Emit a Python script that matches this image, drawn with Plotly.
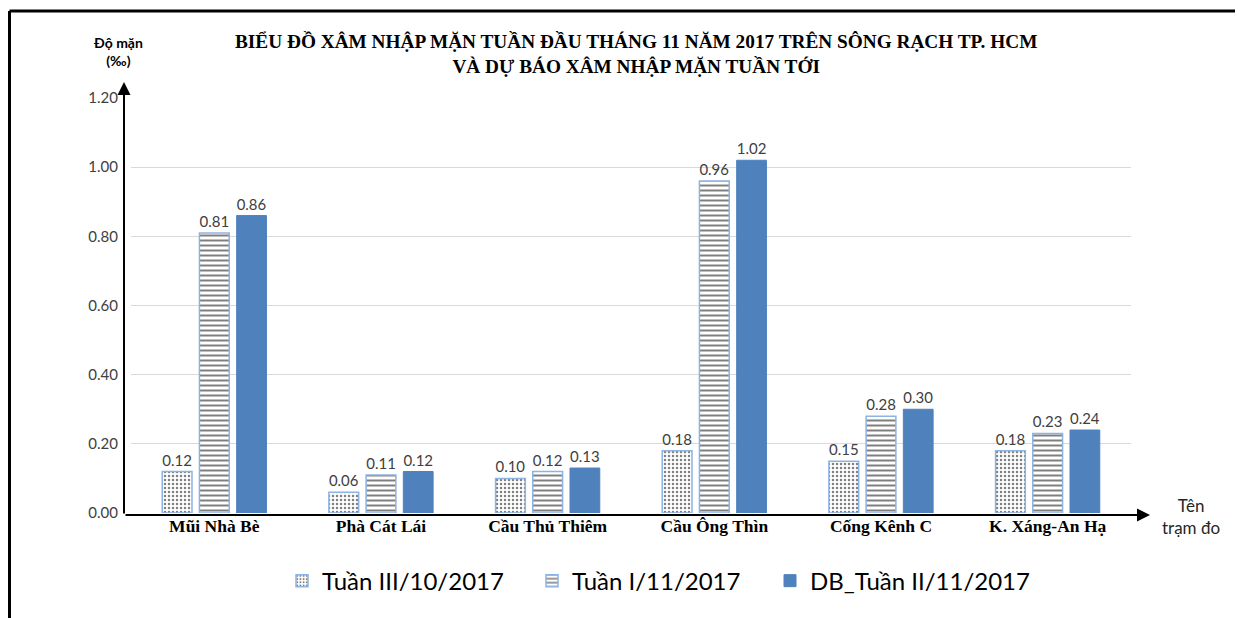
import plotly.graph_objects as go

categories = ["Mũi Nhà Bè", "Phà Cát Lái", "Cầu Thủ Thiêm", "Cầu Ông Thìn", "Cống Kênh C", "K. Xáng-An Hạ"]
series_names = ["Tuần III/10/2017", "Tuần I/11/2017", "DB_Tuần II/11/2017"]
tuan3_10 = [0.12, 0.06, 0.10, 0.18, 0.15, 0.18]
tuan1_11 = [0.81, 0.11, 0.12, 0.96, 0.28, 0.23]
db_tuan2_11 = [0.86, 0.12, 0.13, 1.02, 0.30, 0.24]
y_ticks = [0.0, 0.2, 0.4, 0.6, 0.8, 1.0, 1.2]

SANS = "Lato, 'Open Sans', sans-serif"
SERIF = "'Liberation Serif', 'DejaVu Serif', serif"
BLUE = "#4F81BD"
BORDER = "#8DB3E2"

fig = go.Figure()
fig.add_trace(go.Bar(
    x=categories, y=tuan3_10, name=series_names[0], legend="legend",
    marker=dict(color="white", line=dict(color=BORDER, width=1.5),
                pattern=dict(shape=".", fgcolor="black", bgcolor="white", size=4, solidity=0.3)),
    text=[f"{v:.2f}" for v in tuan3_10], textposition="outside",
))
fig.add_trace(go.Bar(
    x=categories, y=tuan1_11, name=series_names[1], legend="legend2",
    marker=dict(color="white", line=dict(color=BORDER, width=1.5),
                pattern=dict(shape="-", fgcolor="black", bgcolor="white", size=5, solidity=0.4)),
    text=[f"{v:.2f}" for v in tuan1_11], textposition="outside",
))
fig.add_trace(go.Bar(
    x=categories, y=db_tuan2_11, name=series_names[2], legend="legend3",
    marker=dict(color=BLUE, line=dict(color=BLUE, width=1)),
    text=[f"{v:.2f}" for v in db_tuan2_11], textposition="outside",
))
fig.update_traces(textfont=dict(family=SANS, size=15, color="#404040"), cliponaxis=False)

legend_common = dict(orientation="h", xanchor="left", y=-0.164, yanchor="middle",
                     font=dict(family=SANS, size=24, color="black"), itemwidth=30,
                     bgcolor="rgba(0,0,0,0)")

fig.update_layout(
    width=1235, height=610,
    margin=dict(l=123, r=112, t=90, b=105),
    paper_bgcolor="white", plot_bgcolor="white",
    barmode="group", bargap=0.33, bargroupgap=0.2,
    showlegend=True,
    legend=dict(x=0.151, **legend_common),
    legend2=dict(x=0.401, **legend_common),
    legend3=dict(x=0.639, **legend_common),
    xaxis=dict(showline=False, showgrid=False, ticks="",
               tickfont=dict(family=SERIF, size=17.5, color="black"),
               tickprefix="<b>", ticksuffix="</b>"),
    yaxis=dict(range=[0, 1.2], tickvals=y_ticks, tickformat=".2f",
               showgrid=True, gridcolor="#D9D9D9", gridwidth=1,
               zeroline=False, showline=False, ticks="", ticklen=0,
               ticklabelstandoff=12,
               tickfont=dict(family=SANS, size=15, color="#404040")),
    font=dict(family=SANS),
)

# outer frame (top and left)
fig.add_shape(type="line", xref="paper", yref="paper", x0=-0.1215, x1=1.2, y0=1.2096, y1=1.2096,
              line=dict(color="black", width=3))
fig.add_shape(type="line", xref="paper", yref="paper", x0=-0.1215, x1=-0.1215, y0=1.2096, y1=-0.3,
              line=dict(color="black", width=3))

# axis arrows
fig.add_annotation(xref="paper", yref="paper", x=1.019, y=-0.0048, ax=-1026, ay=0,
                   showarrow=True, arrowhead=2, arrowsize=1.3, arrowwidth=2, arrowcolor="black", text="")
fig.add_annotation(xref="paper", yref="paper", x=-0.007, y=1.0386, ax=0, ay=433,
                   showarrow=True, arrowhead=2, arrowsize=1.3, arrowwidth=2, arrowcolor="black", text="")

# titles
fig.add_annotation(xref="paper", yref="paper", x=0.505, y=1.106, showarrow=False,
                   text="<b>BIỂU ĐỒ XÂM NHẬP MẶN TUẦN ĐẦU THÁNG 11 NĂM 2017 TRÊN SÔNG RẠCH TP. HCM<br>VÀ DỰ BÁO XÂM NHẬP MẶN TUẦN TỚI</b>",
                   font=dict(family=SERIF, size=19.3, color="black"), align="center",
                   xanchor="center", yanchor="middle")
fig.add_annotation(xref="paper", yref="paper", x=-0.013, y=1.111, showarrow=False,
                   text="<b>Độ mặn<br>(‰)</b>", font=dict(family=SANS, size=14, color="black"),
                   align="center", xanchor="center", yanchor="middle")
fig.add_annotation(xref="paper", yref="paper", x=1.06, y=-0.0096, showarrow=False,
                   text="Tên<br>trạm đo", font=dict(family=SANS, size=17, color="#262626"),
                   align="center", xanchor="center", yanchor="middle")

fig.write_html("out.html")
